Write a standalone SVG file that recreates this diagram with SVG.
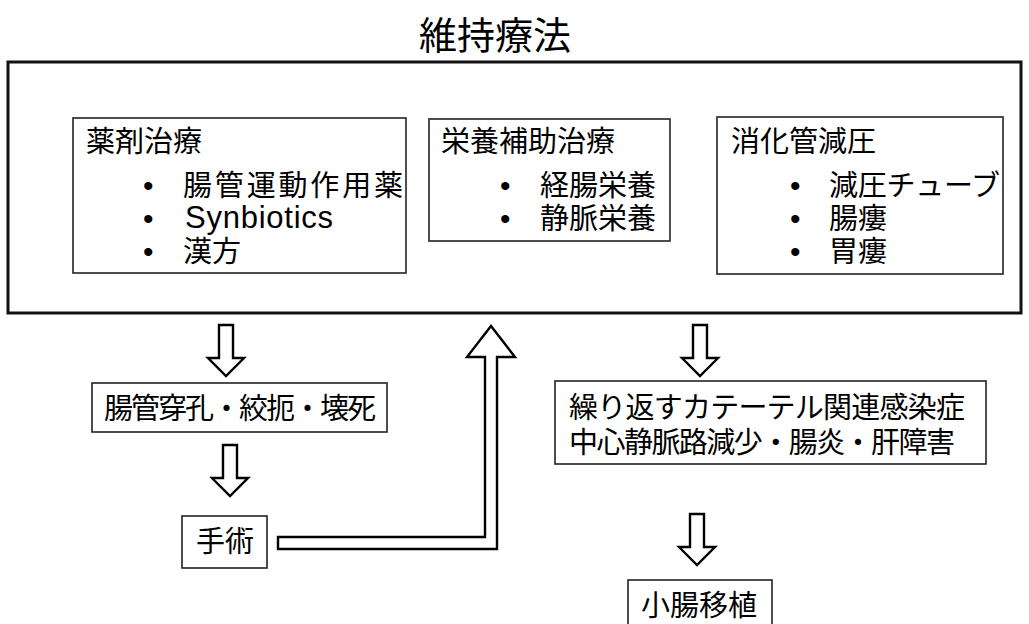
<svg xmlns="http://www.w3.org/2000/svg" width="1029" height="624" viewBox="0 0 1029 624">
<style>
text{font-family:"Noto Sans CJK JP","Noto Sans",sans-serif;fill:#000;font-size:29px}
.t{font-size:38px}
.box{fill:#fff;stroke:#222;stroke-width:1.6}
.outer{fill:#fff;stroke:#111;stroke-width:3}
.arr{fill:#fff;stroke:#000;stroke-width:2.4;stroke-linejoin:miter}
.lat{font-family:"Liberation Sans",Arial,sans-serif;font-size:31px}
.b{font-family:"Liberation Sans",Arial,sans-serif;font-size:30px}
</style>
<defs>
<path id="down" d="M-7,0 H7 V33 H18 L0,51 L-18,33 H-7 Z"/>
</defs>
<rect width="1029" height="624" fill="#fff"/>
<g id="title"><text class="t" x="495" y="49" text-anchor="middle">維持療法</text></g>
<g id="maintenance">
<rect class="outer" x="8" y="62" width="1013" height="251"/>
</g>
<g id="drug">
<rect class="box" x="73" y="118" width="333" height="155"/>
<text x="86" y="152">薬剤治療</text>
<text class="b" x="143" y="196">•</text><text x="183" y="196" textLength="220">腸管運動作用薬</text>
<text class="b" x="143" y="229">•</text><text class="lat" x="185" y="228" textLength="148">Synbiotics</text>
<text class="b" x="143" y="262">•</text><text x="183" y="262">漢方</text>
</g>
<g id="nutrition">
<rect class="box" x="429" y="119" width="241" height="122"/>
<text x="441" y="152">栄養補助治療</text>
<text class="b" x="500" y="196">•</text><text x="540" y="196">経腸栄養</text>
<text class="b" x="500" y="229">•</text><text x="540" y="229">静脈栄養</text>
</g>
<g id="decompression">
<rect class="box" x="717" y="117" width="286" height="157"/>
<text x="731" y="152">消化管減圧</text>
<text class="b" x="790" y="196">•</text><text x="829" y="196" textLength="171">減圧チューブ</text>
<text class="b" x="790" y="229">•</text><text x="829" y="229">腸瘻</text>
<text class="b" x="790" y="262">•</text><text x="829" y="262">胃瘻</text>
</g>
<g id="perforation">
<rect class="box" x="92" y="383" width="295" height="49"/>
<text x="104" y="419" textLength="272">腸管穿孔・絞扼・壊死</text>
</g>
<g id="surgery">
<rect class="box" x="182" y="516" width="85" height="52"/>
<text x="196" y="552">手術</text>
</g>
<g id="complications">
<rect class="box" x="555" y="381" width="431" height="83"/>
<text x="569" y="418" textLength="396">繰り返すカテーテル関連感染症</text>
<text x="569" y="453" textLength="386">中心静脈路減少・腸炎・肝障害</text>
</g>
<g id="transplant">
<rect class="box" x="628" y="580" width="144" height="50"/>
<text x="641" y="616">小腸移植</text>
</g>
<g id="connectors">
<use href="#down" class="arr" x="226" y="325"/>
<use href="#down" class="arr" x="230" y="445"/>
<use href="#down" class="arr" x="700" y="325"/>
<use href="#down" class="arr" x="697" y="514"/>
<path class="arr" d="M278,537 H485 V357 H467 L491,326 L515,357 H497 V549 H278 Z"/>
</g>
</svg>
